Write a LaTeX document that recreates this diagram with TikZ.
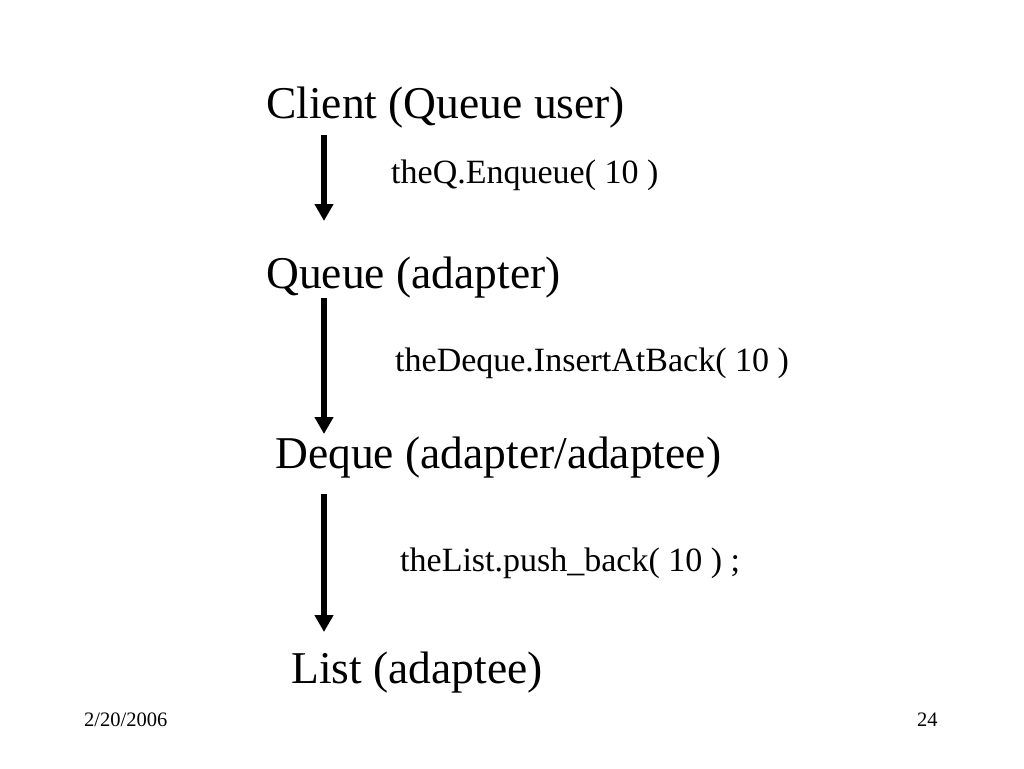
\documentclass[tikz,border=0pt]{standalone}
\usepackage{fontspec}
\setmainfont{Liberation Serif}
\usetikzlibrary{arrows.meta}
\begin{document}
\begin{tikzpicture}[x=1pt,y=-1pt,
  big/.style={anchor=base west,inner sep=0pt,font=\fontsize{45.5}{50}\selectfont},
  call/.style={anchor=base west,inner sep=0pt,font=\fontsize{34}{38}\selectfont},
  foot/.style={anchor=base west,inner sep=0pt,font=\fontsize{20.5}{24}\selectfont},
  flow/.style={line width=5.5pt,-{Triangle[width=18pt,length=17pt]}}]
\useasboundingbox[fill=white] (0,0) rectangle (1024,768);
\node[big] (client) at (266,118) {Client (Queue user)};
\node[call] (c1) at (391,183) {theQ.Enqueue( 10 )};
\node[big] (queue) at (266,288) {Queue (adapter)};
\node[call] (c2) at (395,371) {theDeque.InsertAtBack( 10 )};
\node[big] (deque) at (275,468) {Deque (adapter/adaptee)};
\node[call] (c3) at (400,571) {theList.push\_back( 10 ) ;};
\node[big] (list) at (291,683) {List (adaptee)};
\node[foot] (date) at (84,726) {2/20/2006};
\node[foot] (page) at (917,726) {24};
\coordinate (a1s) at (324,135);
\coordinate (a1e) at (324,221);
\coordinate (a2s) at (324,298);
\coordinate (a2e) at (324,434);
\coordinate (a3s) at (324,494);
\coordinate (a3e) at (324,632);
\draw[flow] (a1s) -- (a1e);
\draw[flow] (a2s) -- (a2e);
\draw[flow] (a3s) -- (a3e);
\end{tikzpicture}
\end{document}
